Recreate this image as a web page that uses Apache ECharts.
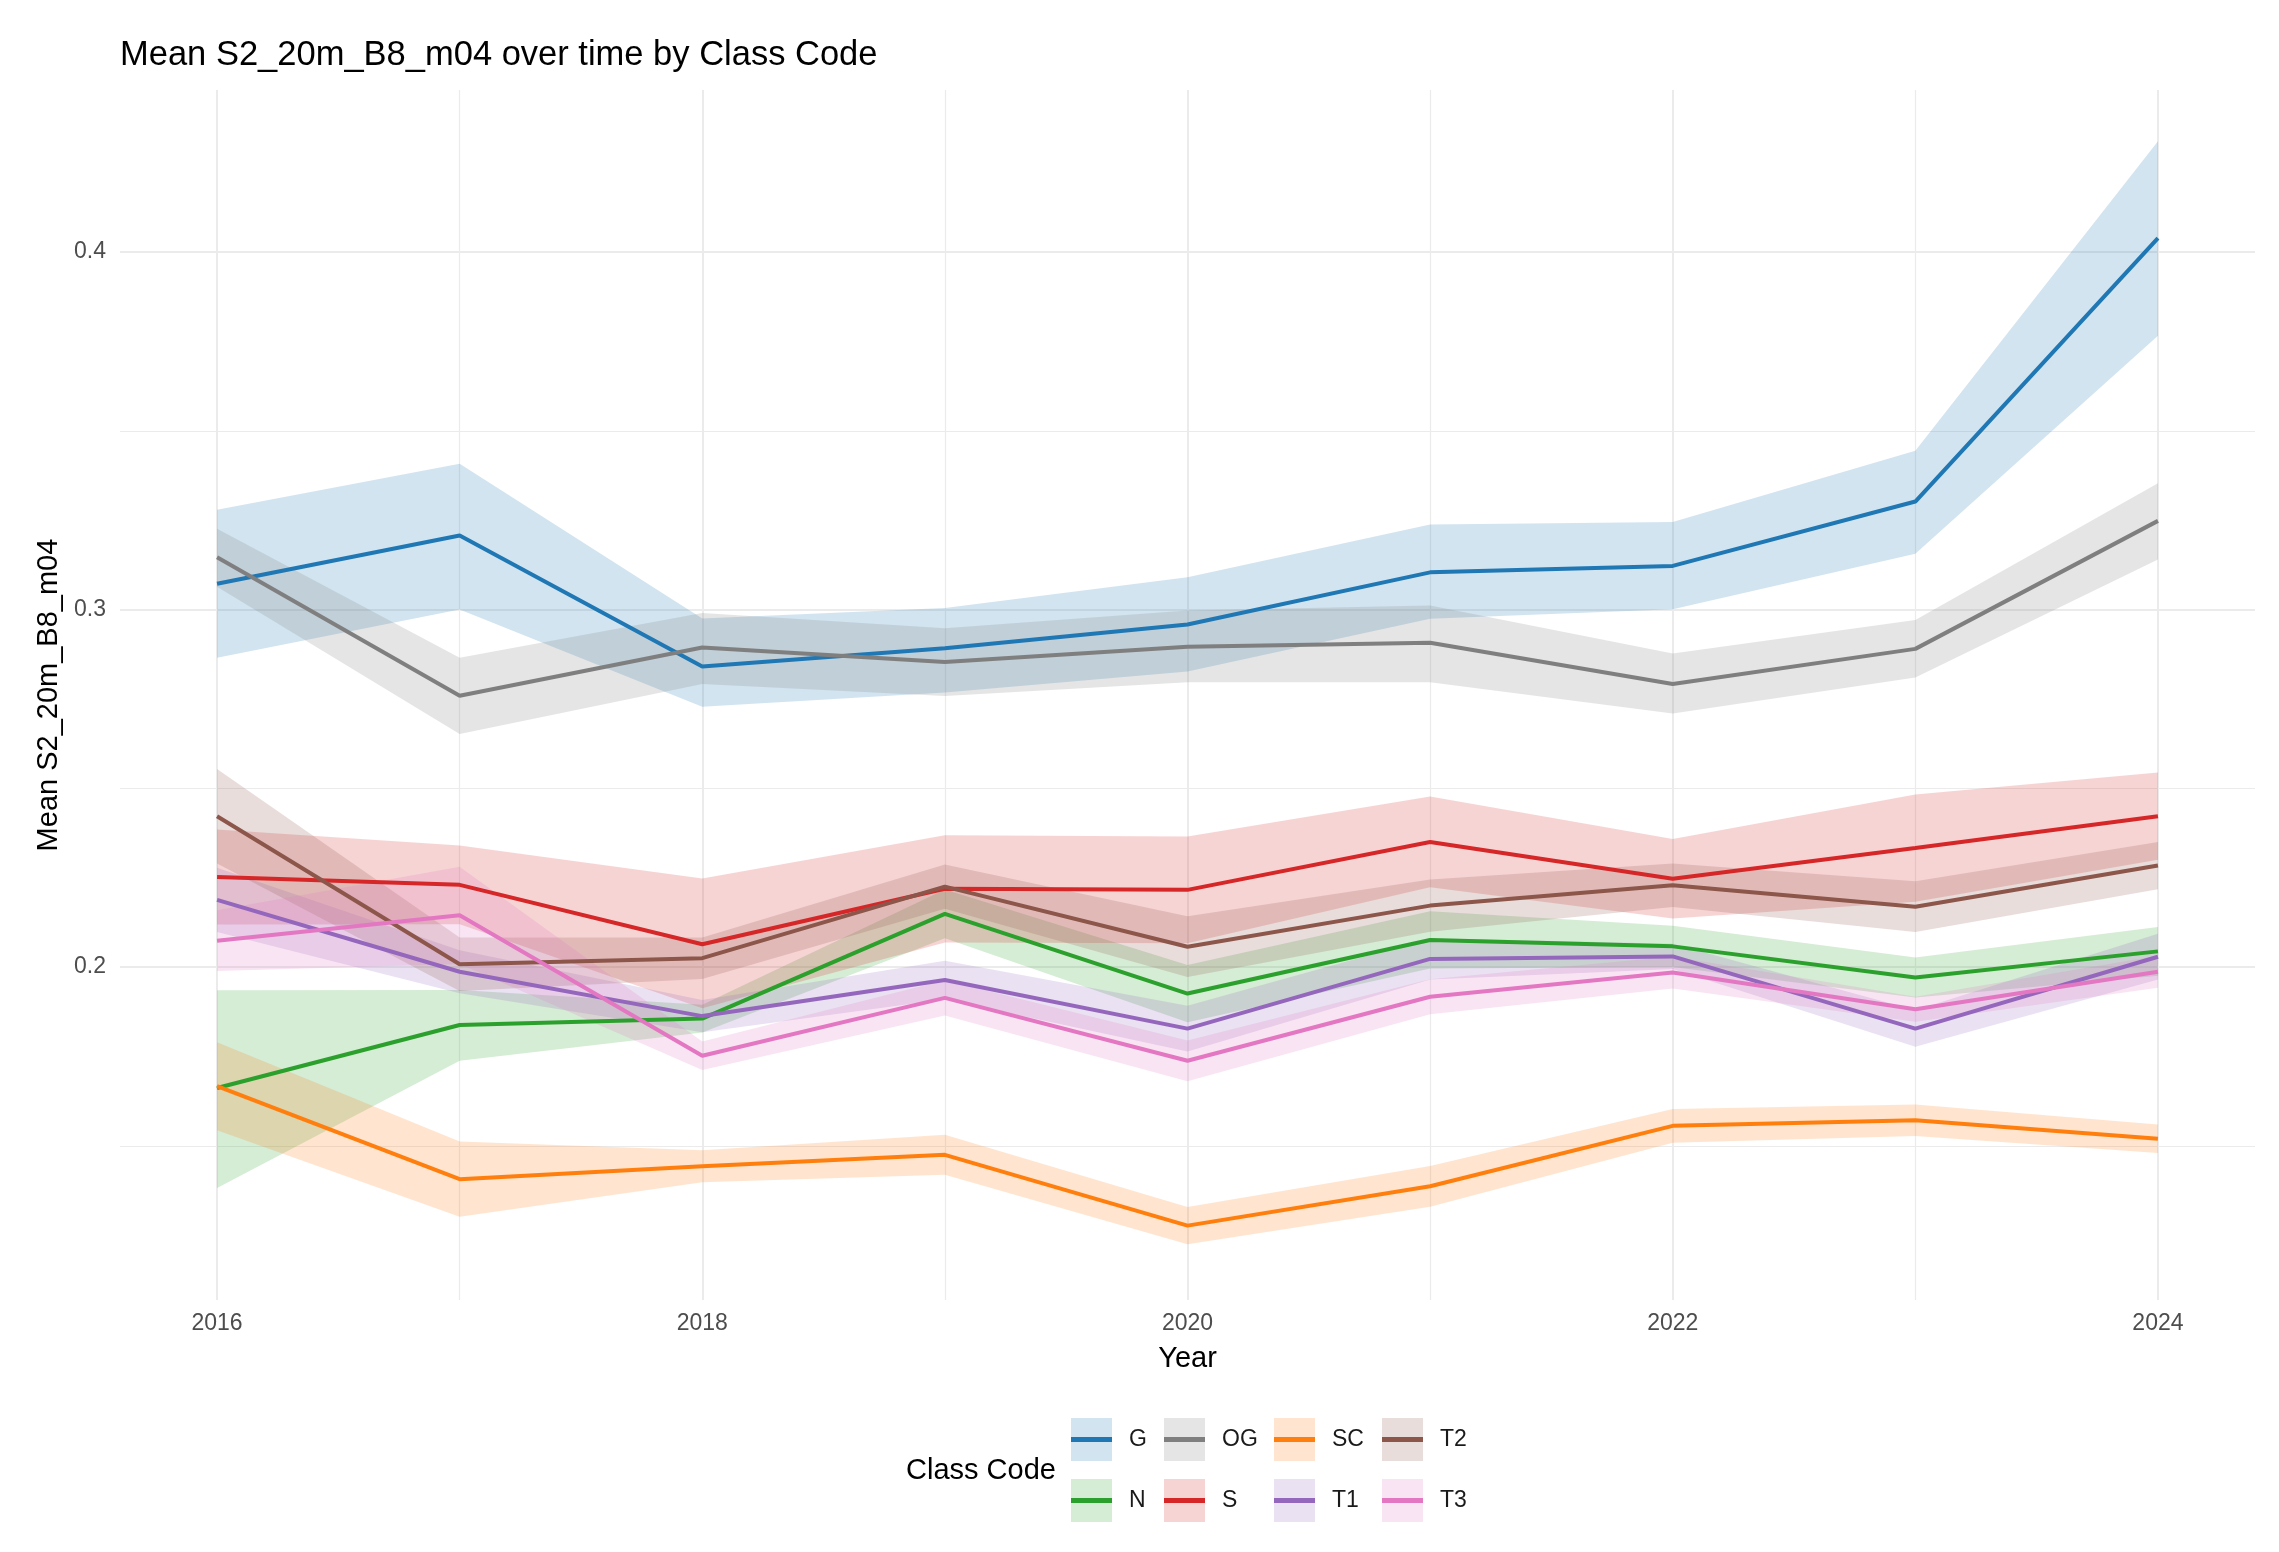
<!DOCTYPE html>
<html>
<head>
<meta charset="utf-8">
<script src="https://cdn.jsdelivr.net/npm/echarts@6/dist/echarts.min.js"></script>
<style>
html,body{margin:0;padding:0;background:#ffffff;}
#chart{width:2279px;height:1552px;}
</style>
</head>
<body>
<div id="chart"></div>
<script>
// ---------------- data ----------------
const years = [2016, 2017, 2018, 2019, 2020, 2021, 2022, 2023, 2024];
const classCodes = ['G', 'N', 'OG', 'S', 'SC', 'T1', 'T2', 'T3'];
const xTickLabels = ['2016', '2018', '2020', '2022', '2024'];
const yTickLabels = ['0.2', '0.3', '0.4'];

const G_mean = [0.3072, 0.3207, 0.2841, 0.2892, 0.2958, 0.3104, 0.3122, 0.3302, 0.4039];
const G_lo   = [0.2865, 0.3000, 0.2728, 0.2768, 0.2827, 0.2974, 0.3001, 0.3156, 0.3766];
const G_hi   = [0.3279, 0.3408, 0.2975, 0.3004, 0.3090, 0.3238, 0.3245, 0.3444, 0.4310];

const N_mean = [0.1662, 0.1838, 0.1856, 0.2149, 0.1926, 0.2076, 0.2058, 0.1971, 0.2044];
const N_lo   = [0.1382, 0.1738, 0.1817, 0.2081, 0.1846, 0.1996, 0.2000, 0.1915, 0.1976];
const N_hi   = [0.1935, 0.1936, 0.1895, 0.2217, 0.2006, 0.2156, 0.2116, 0.2027, 0.2112];

const OG_mean = [0.3146, 0.2759, 0.2894, 0.2853, 0.2896, 0.2907, 0.2792, 0.2890, 0.3248];
const OG_lo   = [0.3064, 0.2652, 0.2792, 0.2758, 0.2797, 0.2797, 0.2709, 0.2810, 0.3140];
const OG_hi   = [0.3226, 0.2865, 0.2990, 0.2948, 0.2997, 0.3011, 0.2877, 0.2971, 0.3353];

const S_mean = [0.2252, 0.2230, 0.2064, 0.2219, 0.2216, 0.2350, 0.2247, 0.2333, 0.2422];
const S_lo   = [0.2119, 0.2120, 0.1885, 0.2069, 0.2067, 0.2223, 0.2136, 0.2183, 0.2300];
const S_hi   = [0.2385, 0.2340, 0.2248, 0.2369, 0.2365, 0.2477, 0.2358, 0.2483, 0.2544];

const SC_mean = [0.1667, 0.1407, 0.1443, 0.1475, 0.1277, 0.1387, 0.1556, 0.1572, 0.1520];
const SC_lo   = [0.1544, 0.1302, 0.1398, 0.1419, 0.1225, 0.1330, 0.1509, 0.1528, 0.1480];
const SC_hi   = [0.1790, 0.1512, 0.1488, 0.1531, 0.1329, 0.1444, 0.1603, 0.1616, 0.1560];

const T1_mean = [0.2188, 0.1987, 0.1863, 0.1964, 0.1828, 0.2023, 0.2030, 0.1828, 0.2029];
const T1_lo   = [0.2098, 0.1927, 0.1818, 0.1910, 0.1764, 0.1965, 0.1995, 0.1777, 0.1965];
const T1_hi   = [0.2278, 0.2047, 0.1908, 0.2018, 0.1892, 0.2081, 0.2065, 0.1879, 0.2093];

const T2_mean = [0.2422, 0.2008, 0.2025, 0.2225, 0.2057, 0.2172, 0.2229, 0.2169, 0.2284];
const T2_lo   = [0.2290, 0.1933, 0.1967, 0.2163, 0.1972, 0.2099, 0.2168, 0.2098, 0.2218];
const T2_hi   = [0.2554, 0.2083, 0.2083, 0.2287, 0.2142, 0.2245, 0.2290, 0.2240, 0.2350];

const T3_mean = [0.2074, 0.2145, 0.1752, 0.1914, 0.1738, 0.1917, 0.1985, 0.1882, 0.1987];
const T3_lo   = [0.1989, 0.2009, 0.1712, 0.1865, 0.1681, 0.1868, 0.1940, 0.1847, 0.1942];
const T3_hi   = [0.2159, 0.2281, 0.1792, 0.1963, 0.1795, 0.1966, 0.2030, 0.1917, 0.2032];

// ---------------- styles ----------------
const lineColors = {
  G: '#1f77b4', N: '#2ca02c', OG: '#7f7f7f', S: '#d62728',
  SC: '#ff7f0e', T1: '#9467bd', T2: '#8c564b', T3: '#e377c2'
};
const bandColors = {
  G: 'rgba(31,119,180,0.2)', N: 'rgba(44,160,44,0.2)', OG: 'rgba(127,127,127,0.2)',
  S: 'rgba(214,39,40,0.2)', SC: 'rgba(255,127,14,0.2)', T1: 'rgba(148,103,189,0.2)',
  T2: 'rgba(140,86,75,0.2)', T3: 'rgba(227,119,194,0.2)'
};
const FONT = '"Liberation Sans", Arial, Helvetica, sans-serif';

const table = {
  G: [G_mean, G_lo, G_hi], N: [N_mean, N_lo, N_hi], OG: [OG_mean, OG_lo, OG_hi],
  S: [S_mean, S_lo, S_hi], SC: [SC_mean, SC_lo, SC_hi], T1: [T1_mean, T1_lo, T1_hi],
  T2: [T2_mean, T2_lo, T2_hi], T3: [T3_mean, T3_lo, T3_hi]
};

// ribbon: one polygon per class, built from the series' own data via api.coord
function makeRibbonRenderer(color) {
  return function (params, api) {
    if (params.dataIndexInside !== 0) return null;
    const n = params.dataInsideLength;
    const upper = [], lower = [];
    for (let i = 0; i < n; i++) {
      const x = api.value(0, i);
      upper.push(api.coord([x, api.value(2, i)]));
      lower.push(api.coord([x, api.value(1, i)]));
    }
    const pts = upper.concat(lower.reverse());
    return {
      type: 'polygon',
      shape: { points: pts },
      style: { fill: color, stroke: null, lineWidth: 0 },
      silent: true
    };
  };
}

// ---------------- series ----------------
const series = [];
classCodes.forEach(function (c) {
  const lo = table[c][1], hi = table[c][2];
  series.push({
    name: c + ' ribbon', type: 'custom', z: 1, silent: true,
    renderItem: makeRibbonRenderer(bandColors[c]),
    encode: { x: 0, y: [1, 2] },
    clip: true,
    data: years.map(function (y, i) { return [y, lo[i], hi[i]]; })
  });
});
classCodes.forEach(function (c) {
  const m = table[c][0];
  series.push({
    name: c, type: 'line', symbol: 'none', showSymbol: false, z: 3,
    lineStyle: { width: 4, color: lineColors[c] },
    itemStyle: { color: lineColors[c] },
    data: years.map(function (y, i) { return [y, m[i]]; })
  });
});

// ---------------- legend (ggplot-like 2 rows x 4 columns) ----------------
const legendColumns = [['G', 'N'], ['OG', 'S'], ['SC', 'T1'], ['T2', 'T3']];
const legendColLeft = [1071, 1164, 1274, 1382];
const legendTop = 1418;
const legends = [];
legendColumns.forEach(function (col, k) {
  legends.push({
    orient: 'vertical', left: legendColLeft[k], top: legendTop, padding: 0,
    itemWidth: 41, itemHeight: 43, itemGap: 18, selectedMode: false,
    data: col.map(function (n) {
      return { name: n, icon: 'rect', itemStyle: { color: bandColors[n], borderWidth: 0 } };
    }),
    textStyle: { fontSize: 23, color: '#1a1a1a', fontFamily: FONT, padding: [0, 0, 0, 12] }
  });
});
legendColumns.forEach(function (col, k) {
  legends.push({
    orient: 'vertical', left: legendColLeft[k], top: legendTop + 19, padding: 0,
    itemWidth: 41, itemHeight: 5, itemGap: 56, selectedMode: false,
    formatter: function () { return ''; },
    data: col.map(function (n) {
      return { name: n, icon: 'rect', itemStyle: { color: lineColors[n], borderWidth: 0 } };
    }),
    textStyle: { fontSize: 1, color: 'rgba(0,0,0,0)', fontFamily: FONT }
  });
});

// ---------------- chart ----------------
const chart = echarts.init(document.getElementById('chart'), null, { renderer: 'canvas' });
const option = {
  backgroundColor: '#ffffff',
  animation: false,
  textStyle: { fontFamily: FONT },
  title: [
    {
      text: 'Mean S2_20m_B8_m04 over time by Class Code',
      left: 120, top: 38, padding: 0,
      textStyle: { fontSize: 34.5, fontWeight: 'normal', color: '#000000', fontFamily: FONT }
    },
    {
      text: 'Class Code',
      left: 906, top: 1456, padding: 0,
      textStyle: { fontSize: 29, fontWeight: 'normal', color: '#000000', fontFamily: FONT }
    }
  ],
  legend: legends,
  grid: { left: 120, right: 24, top: 90, bottom: 252, containLabel: false, outerBoundsMode: 'none' },
  xAxis: {
    type: 'value', min: 2015.6, max: 2024.4, splitNumber: 5,
    name: 'Year', nameLocation: 'middle', nameGap: 44,
    nameTextStyle: { fontSize: 29, color: '#000000', fontFamily: FONT },
    axisLine: { show: false }, axisTick: { show: false },
    axisLabel: {
      margin: 12, fontSize: 23, color: '#4d4d4d', fontFamily: FONT,
      showMinLabel: false, showMaxLabel: false,
      formatter: function (v) {
        const s = String(Math.round(v));
        return xTickLabels.indexOf(s) >= 0 && Math.abs(v - Math.round(v)) < 1e-6 ? s : '';
      }
    },
    splitLine: { show: true, showMinLine: false, showMaxLine: false, lineStyle: { color: '#ebebeb', width: 2 } },
    minorTick: { show: false, splitNumber: 2 },
    minorSplitLine: { show: true, lineStyle: { color: '#ebebeb', width: 1.2 } }
  },
  yAxis: {
    type: 'value', min: 0.1069, max: 0.4453, splitNumber: 3,
    name: 'Mean S2_20m_B8_m04', nameLocation: 'middle', nameGap: 50,
    nameTextStyle: { fontSize: 29, color: '#000000', fontFamily: FONT },
    axisLine: { show: false }, axisTick: { show: false },
    axisLabel: {
      margin: 14, fontSize: 23, color: '#4d4d4d', fontFamily: FONT,
      showMinLabel: false, showMaxLabel: false,
      formatter: function (v) {
        const s = (Math.round(v * 10) / 10).toFixed(1);
        return yTickLabels.indexOf(s) >= 0 && Math.abs(v * 10 - Math.round(v * 10)) < 1e-6 ? s : '';
      }
    },
    splitLine: { show: true, showMinLine: false, showMaxLine: false, lineStyle: { color: '#ebebeb', width: 2 } },
    minorTick: { show: false, splitNumber: 2 },
    minorSplitLine: { show: true, lineStyle: { color: '#ebebeb', width: 1.2 } }
  },
  series: series
};
chart.setOption(option);
</script>
</body>
</html>
